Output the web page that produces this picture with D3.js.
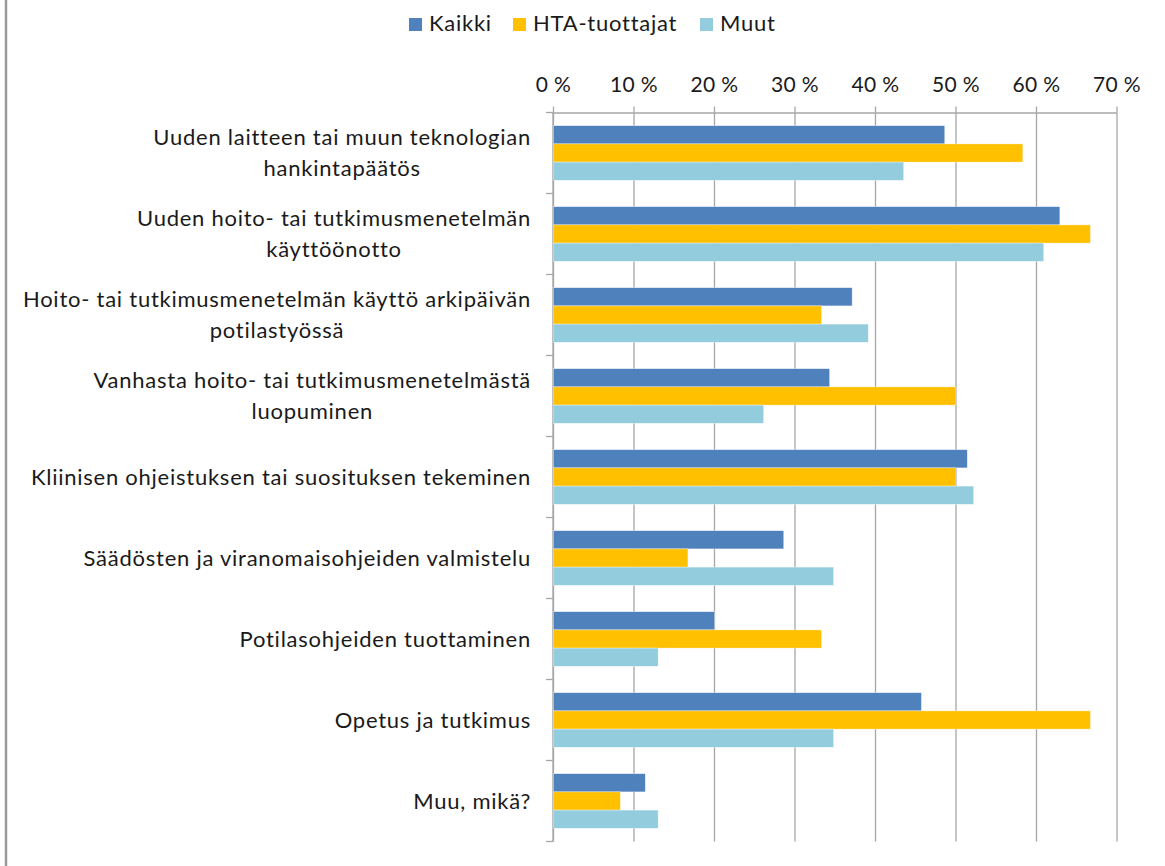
<!DOCTYPE html>
<meta charset="utf-8">
<style>
    body { margin: 0; background: #fff; }
    svg text { font-family: Lato, "Noto Sans", sans-serif; fill: #1a1a1a; letter-spacing: 0.75px; }
    .grid line { stroke: #a6a6a6; stroke-width: 1.3px; }
    .grid path { display: none; }
    .axis path, .axis line { stroke: #a6a6a6; stroke-width: 1.3px; }
</style>
<title>HTA</title>
<script src="https://d3js.org/d3.v7.min.js"></script>
<body>
<div id="chart"></div>
<script>
    // data
    var categories = [
        ["Uuden laitteen tai muun teknologian", "hankintapäätös"],
        ["Uuden hoito- tai tutkimusmenetelmän", "käyttöönotto"],
        ["Hoito- tai tutkimusmenetelmän käyttö arkipäivän", "potilastyössä"],
        ["Vanhasta hoito- tai tutkimusmenetelmästä", "luopuminen"],
        ["Kliinisen ohjeistuksen tai suosituksen tekeminen"],
        ["Säädösten ja viranomaisohjeiden valmistelu"],
        ["Potilasohjeiden tuottaminen"],
        ["Opetus ja tutkimus"],
        ["Muu, mikä?"]
    ];
    var seriesNames = ["Kaikki", "HTA-tuottajat", "Muut"];
    var kaikki = [48.6, 62.9, 37.1, 34.3, 51.4, 28.6, 20.0, 45.7, 11.4];
    var htaTuottajat = [58.3, 66.7, 33.3, 50.0, 50.0, 16.7, 33.3, 66.7, 8.3];
    var muut = [43.5, 60.9, 39.1, 26.1, 52.2, 34.8, 13.0, 34.8, 13.0];
    var xTicks = [0, 10, 20, 30, 40, 50, 60, 70];
    var colors = ["#4f81bd", "#ffc000", "#93cddd"];

    var canvasWidth = 1165, canvasHeight = 866;
    var margin = {top: 112.5, right: 48.5, bottom: 24.5, left: 553};
    var width = canvasWidth - margin.left - margin.right,
        height = canvasHeight - margin.top - margin.bottom;
    var fontSize = 22;

    var svg = d3.select("#chart").append("svg")
        .attr("width", canvasWidth)
        .attr("height", canvasHeight);

    // frame line on the left edge
    svg.append("line")
        .attr("x1", 6).attr("x2", 6)
        .attr("y1", 0).attr("y2", canvasHeight)
        .attr("stroke", "#9a9a9a").attr("stroke-width", 2.5);

    var g = svg.append("g").attr("transform", "translate(" + margin.left + "," + margin.top + ")");

    var keys = categories.map(function(c, i) { return "c" + i; });
    var rows = keys.map(function(k, i) {
        return {key: k, label: categories[i], values: [kaikki[i], htaTuottajat[i], muut[i]]};
    });

    var x = d3.scaleLinear().domain([0, 70]).range([0, width]);
    var y0 = d3.scaleBand().domain(keys).range([0, height]).paddingInner(0).paddingOuter(0);
    var y1 = d3.scaleBand().domain(seriesNames).range([0, y0.bandwidth()])
        .paddingInner(0).paddingOuter(0.725);

    // gridlines
    g.append("g")
        .attr("class", "grid")
        .call(d3.axisTop(x).tickValues(xTicks).tickSize(-height).tickFormat(""));

    // top axis
    var xAxis = g.append("g")
        .attr("class", "axis")
        .call(d3.axisTop(x).tickValues(xTicks).tickSize(6).tickSizeOuter(0).tickPadding(15)
            .tickFormat(function(d) { return d + " %"; }));
    xAxis.selectAll("text").style("font-size", "21px").style("letter-spacing", "0.3px").attr("fill", "#1a1a1a");

    // left axis: line + ticks on band boundaries
    var yAxis = g.append("g").attr("class", "axis");
    yAxis.append("line")
        .attr("x1", 0).attr("x2", 0).attr("y1", 0).attr("y2", height);
    var bounds = keys.map(function(k) { return y0(k); }).concat([y0.range()[1]]);
    yAxis.selectAll(".tick")
        .data(bounds).enter().append("line")
        .attr("x1", -7).attr("x2", 0)
        .attr("y1", function(d) { return d; }).attr("y2", function(d) { return d; });

    // bars
    var group = g.selectAll(".cat")
        .data(rows).enter().append("g")
        .attr("class", "cat")
        .attr("transform", function(d) { return "translate(0," + y0(d.key) + ")"; });

    group.selectAll("rect")
        .data(function(d) { return d.values.map(function(v, j) { return {series: seriesNames[j], value: v, j: j}; }); })
        .enter().append("rect")
        .attr("x", x(0) + 0.5)
        .attr("y", function(d) { return y1(d.series); })
        .attr("width", function(d) { return x(d.value) - x(0); })
        .attr("height", y1.bandwidth())
        .attr("fill", function(d) { return colors[d.j]; })
        .attr("stroke", "#fff").attr("stroke-width", 0.6).attr("stroke-opacity", 0.6);

    // category labels, lines centred inside a block that ends 22px left of axis
    var lineHeight = 30.5;
    var labelRight = -22;
    group.each(function(d) {
        var t = d3.select(this).append("text")
            .style("font-size", fontSize + "px")
            .attr("text-anchor", "middle");
        var n = d.label.length;
        d.label.forEach(function(line, i) {
            t.append("tspan")
                .attr("y", y0.bandwidth() / 2 + (i - (n - 1) / 2) * lineHeight)
                .attr("dy", "0.35em")
                .text(line);
        });
        var w = d3.max(t.selectAll("tspan").nodes(), function(n) { return n.getComputedTextLength(); });
        t.selectAll("tspan").attr("x", labelRight - w / 2);
    });

    // legend
    var legendX = [409, 513, 700];
    var legend = svg.append("g").attr("class", "legend");
    seriesNames.forEach(function(name, i) {
        legend.append("rect")
            .attr("x", legendX[i]).attr("y", 18)
            .attr("width", 13).attr("height", 13)
            .attr("fill", colors[i]);
        legend.append("text")
            .attr("x", legendX[i] + 20).attr("y", 31)
            .style("font-size", fontSize + "px")
            .text(name);
    });
</script>
</body>
